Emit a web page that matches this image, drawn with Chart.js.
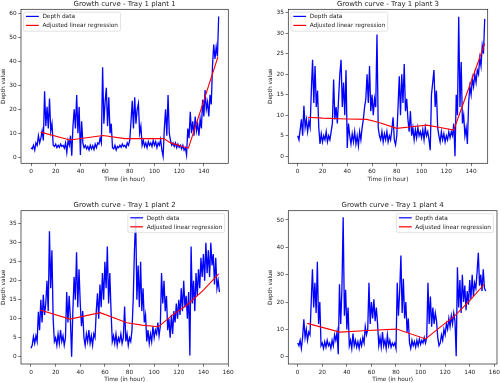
<!DOCTYPE html>
<html><head><meta charset="utf-8">
<script src="https://cdn.jsdelivr.net/npm/chart.js@4.4.1/dist/chart.umd.min.js"></script>
<style>
html,body{margin:0;padding:0;background:#fff;width:501px;height:383px;overflow:hidden;position:relative}
.c{position:absolute;left:-4px;top:-4px;width:509px;height:391px}
</style></head><body>
<div class="c"><canvas id="c1"></canvas></div>
<div class="c"><canvas id="c2"></canvas></div>
<div class="c"><canvas id="c3"></canvas></div>
<div class="c"><canvas id="c4"></canvas></div>
<script>
// ---- data (hourly samples) ----
const titles = ["Growth curve - Tray 1 plant 1","Growth curve - Tray 1 plant 3","Growth curve - Tray 1 plant 2","Growth curve - Tray 1 plant 4"];
const seriesLabels = ["Depth data","Adjusted linear regression"];
const xLabel = "Time (in hour)";
const yLabel = "Depth value";

const plant1Depth = [4,3.5,5,3,6,5,9,6,8,11,7,27.5,13,21,12,24.5,11,14,5,4.5,5.5,4,5,4.2,5.5,4.5,5,3.8,6,2,7,5,9,0.7,13,20,12,26,10,21,1,15,6,4,5,3.5,4.5,3,5,3.5,4.8,3.2,5.5,4,6,5.5,8,6,37.5,14,23,29,13,25,10,14,4,3.5,5,3,4.5,4,5,4.2,5.5,4.5,5,4,6,5,7,15,23.5,12,25,14,20,22.5,10,13,5,7,4.5,6,4,6.5,5,6,4.5,7,5,6.5,4,6,5,7.5,3,0.4,12,20,9,26,10,7,5,6,4.5,6,4,5.5,4.2,5,3.5,5,3,4,1,12,8,19,10,15,9,17,11,14,9,16,12,24,17,28,20,23,17,26,22,38,47,41,46,42,58.7];
const plant1RegX = [7.8,31.5,58.4,76,107.6,113,127.5,151.4];
const plant1RegY = [10.5,7.2,9.1,7.8,7.8,6.0,3.8,41.8];

const plant3Depth = [5,4,6.5,9,5,12.3,7,9,6,8.5,7,16,23.5,13,22,12,16,7,3,5.5,3.5,5,4,6,3.5,5,4,6,8,18.7,9,12,8,14,20,23.5,12,18,10,21,2,8,5,3,5.5,3.5,6,3,5,2.5,6,4,7,9,12,14,20,13,22,11,15,10,14,12,29.7,7,5,4,6,3.5,5.5,4,6,3.5,5,4,6.5,9.5,4,2.8,5,12,19.5,10,20,13,22.5,11,14,9,6,11,5,7,4,6.5,4.5,7,5,6,4.5,6.5,4,7,5,6,4,1.5,15,18,21,12,16,7,5,3.5,6,4,5.5,3.5,5,4,6,4.5,6,5,8,0,15,10,34,12,23,8,10,5,7,3,13,17,15,19,17,20,18,21,20,24,22,27,25,33.5];
const plant3RegX = [8.1,20,40,55.7,65,80,92,104,115,126,151];
const plant3RegY = [9.5,9.3,9.1,9.0,8.3,6.8,7.2,7.6,7.0,6.4,27.5];

const plant2Depth = [2.2,3,5.3,3.5,5.5,4,11.8,7,15,9,16.3,11,14,20,12,33,18,28,10,4,5,3,6,3.5,7,4,5.5,3,5,17,9,16,10,0,12,21,15,27.5,13,23,14,8,12,5,3,6,4,7,3.5,5.5,3,6,5,12,16.7,10,19,13,22,15,25,18,29,14,22,12,4,5.5,3.5,6,3,5,4,6,3.5,5,13.2,4,6,3,5,4,7,15,28,36.4,15,24,13,25,12,18,9,11,4,7,3.5,6,4,8,5,7,6,9,5.5,8,22,14,20,12,16,7,10,5,11,6,12,9,14,10,15,11,18,12,20,13,16,10,17,0.3,29,14,20,12,22,16,23,18,26,21,27,20,30,22,28,21,30,24,27,19,26,18,20,17];
const plant2RegX = [7.3,31.7,56.1,77.9,90,103.6,115,126.7,140,152.4];
const plant2RegY = [12.3,9.9,11.6,8.95,8.3,7.9,11.0,13.6,17.5,21.8];

const plant4Depth = [5,4,6,3,7,13.7,7,10,6,9,8,20,32,18,27,16,34.7,12,20,4,5,3,5.5,3.5,6,4,5,3,6,4,8,6,9,0.9,26.5,12,25,51,15,24.5,10,18,4,6,3,8.5,4,6,3.5,5.5,3,6,4,7,5,11,8,10,27,12,20,14,21,13,18,12,4,7,3.5,9,4,6,3,8,4,6,3.5,5,4,5,3,27,15,24,37,16,28.5,14,20,9,14,5,3,6,4,5.5,3.5,6,4,6.5,4.5,6,5,7,5,7,27,12,22,11,18,12,16,13,7,4,5,8,6,10,8,12,10,14,11,15,12,16,13,0.2,32.7,18,28,16,30,20,26,17,24,19,28,21,30,22,27,25,31,38,26,30,24,32,25,24];
const plant4RegX = [7.8,34.4,57,80.5,104.1,116,128,140,151.8];
const plant4RegY = [12.2,9.0,9.6,10.1,6.5,10.8,15.0,20.5,26.5];

const yTicks1 = [0,10,20,30,40,50,60];
const yTicks3 = [0,5,10,15,20,25,30,35];
const yTicks2 = [0,5,10,15,20,25,30,35];
const yTicks4 = [0,10,20,30,40,50];
const xTicksTop = [0,20,40,60,80,100,120,140];
const xTicksBottom = [0,20,40,60,80,100,120,140,160];

// ---- layout / style ----
const FONT = '"DejaVu Sans", sans-serif';
const TXT = '#222';
const OFF = 4, CW = 509, CH = 391;
const YW = 20.8, XH = 19.2, TITLE_PB = 1.3, TITLE_FS = 7, FS = 5.8;
const TITLE_H = TITLE_FS * 1.2 + TITLE_PB;

const panels = [
  {id:'c1', title:titles[0], depth:plant1Depth, rx:plant1RegX, ry:plant1RegY, yt:yTicks1, xt:xTicksTop,
   box:{l:21,t:9.3,r:228.3,b:163.3}, x:[-8.1,159.8], y:[-2.5,61.67], leg:'left'},
  {id:'c2', title:titles[1], depth:plant3Depth, rx:plant3RegX, ry:plant3RegY, yt:yTicks3, xt:xTicksTop,
   box:{l:288.3,t:9.3,r:487.7,b:163.3}, x:[-7.6,153.4], y:[-1.71,35.83], leg:'left'},
  {id:'c3', title:titles[2], depth:plant2Depth, rx:plant2RegX, ry:plant2RegY, yt:yTicks2, xt:xTicksBottom,
   box:{l:21,t:210.7,r:228.3,b:364}, x:[-8.1,160.2], y:[-1.92,38.42], leg:'right'},
  {id:'c4', title:titles[3], depth:plant4Depth, rx:plant4RegX, ry:plant4RegY, yt:yTicks4, xt:xTicksBottom,
   box:{l:288.3,t:210.7,r:497,b:364}, x:[-7.65,162.2], y:[-2.67,53.4], leg:'right'}
];

const framePlugin = {
  id:'frame',
  afterDatasetsDraw(chart){
    const {ctx, chartArea:a} = chart;
    ctx.save();
    ctx.strokeStyle = '#222'; ctx.lineWidth = 0.7;
    ctx.strokeRect(a.left, a.top, a.right-a.left, a.bottom-a.top);
    ctx.restore();
  }
};

const legendPlugin = {
  id:'mplLegend',
  afterDraw(chart){
    const {ctx, chartArea:a} = chart;
    const side = chart.options.plugins.mplLegend.side;
    ctx.save();
    ctx.font = FS + 'px ' + FONT;
    const ds = chart.data.datasets;
    let tw = 0;
    ds.forEach(d => { tw = Math.max(tw, ctx.measureText(d.label).width); });
    const w = 18.8 + tw + 2.4, h = 19;
    const x0 = side === 'left' ? a.left + 2.6 : a.right - 3.6 - w;
    const y0 = a.top + 2.9;
    const r = 1.6;
    ctx.beginPath();
    ctx.moveTo(x0+r, y0); ctx.lineTo(x0+w-r, y0); ctx.quadraticCurveTo(x0+w, y0, x0+w, y0+r);
    ctx.lineTo(x0+w, y0+h-r); ctx.quadraticCurveTo(x0+w, y0+h, x0+w-r, y0+h);
    ctx.lineTo(x0+r, y0+h); ctx.quadraticCurveTo(x0, y0+h, x0, y0+h-r);
    ctx.lineTo(x0, y0+r); ctx.quadraticCurveTo(x0, y0, x0+r, y0);
    ctx.closePath();
    ctx.fillStyle = 'rgba(255,255,255,0.85)'; ctx.fill();
    ctx.strokeStyle = '#d0d0d0'; ctx.lineWidth = 0.6; ctx.stroke();
    ds.forEach((d, i) => {
      const yy = y0 + 4.2 + i * 9;
      ctx.strokeStyle = d.borderColor; ctx.lineWidth = 1.2;
      ctx.beginPath(); ctx.moveTo(x0 + 2.4, yy); ctx.lineTo(x0 + 15.2, yy); ctx.stroke();
      ctx.fillStyle = TXT; ctx.textBaseline = 'middle'; ctx.textAlign = 'left';
      ctx.fillText(d.label, x0 + 18.8, yy + 0.3);
    });
    ctx.restore();
  }
};

function makeChart(p){
  const bx = p.box;
  const pad = {
    left: (bx.l + OFF) - YW,
    top: (bx.t + OFF) - TITLE_H,
    right: CW - (bx.r + OFF),
    bottom: CH - (bx.b + OFF) - XH
  };
  const depthPts = p.depth.map((v, i) => ({x: i, y: v}));
  const regPts = p.rx.map((x, i) => ({x: x, y: p.ry[i]}));
  const tickFont = {family: FONT, size: FS};
  new Chart(document.getElementById(p.id), {
    type: 'line',
    data: {
      datasets: [
        {label: seriesLabels[0], data: depthPts, borderColor: '#0000ff', borderWidth: 1.3, pointRadius: 0, tension: 0, order: 1, fill: false},
        {label: seriesLabels[1], data: regPts, borderColor: '#ff0000', borderWidth: 1.1, pointRadius: 0, tension: 0, order: 0, fill: false}
      ]
    },
    options: {
      responsive: true, maintainAspectRatio: false, animation: false, events: [],
      layout: {padding: pad},
      plugins: {
        legend: {display: false}, tooltip: {enabled: false},
        title: {display: true, text: p.title, fullSize: false, color: TXT,
                font: {family: FONT, size: TITLE_FS, weight: 'normal'}, padding: {top: 0, bottom: TITLE_PB}},
        mplLegend: {side: p.leg}
      },
      scales: {
        x: {
          type: 'linear', min: p.x[0], max: p.x[1],
          afterBuildTicks: s => { s.ticks = p.xt.map(v => ({value: v})); },
          afterFit: s => { s.height = XH; },
          ticks: {font: tickFont, color: TXT, padding: 2, maxRotation: 0, autoSkip: false, includeBounds: false},
          grid: {drawOnChartArea: false, drawTicks: true, tickLength: 2.8, tickColor: '#222', tickWidth: 0.6},
          border: {display: false},
          title: {display: true, text: xLabel, color: TXT, font: tickFont, padding: {top: 0, bottom: 0}}
        },
        y: {
          type: 'linear', min: p.y[0], max: p.y[1],
          afterBuildTicks: s => { s.ticks = p.yt.map(v => ({value: v})); },
          afterFit: s => { s.width = YW; },
          ticks: {font: tickFont, color: TXT, padding: 1.5, autoSkip: false, includeBounds: false},
          grid: {drawOnChartArea: false, drawTicks: true, tickLength: 2.8, tickColor: '#222', tickWidth: 0.6},
          border: {display: false},
          title: {display: true, text: yLabel, color: TXT, font: tickFont, padding: {top: 0, bottom: 0}}
        }
      }
    },
    plugins: [framePlugin, legendPlugin]
  });
}
panels.forEach(makeChart);
</script>
</body></html>
